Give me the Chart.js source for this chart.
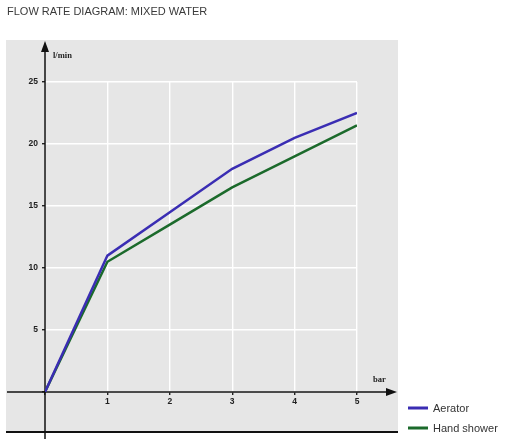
<!DOCTYPE html>
<html>
<head>
<meta charset="utf-8">
<script src="https://cdn.jsdelivr.net/npm/chart.js@4.4.1/dist/chart.umd.min.js"></script>
<style>
  html, body { margin: 0; padding: 0; background: #ffffff; }
  #wrap { width: 508px; height: 439px; position: relative; }
</style>
</head>
<body>
<div id="wrap"><canvas id="c"></canvas></div>
<script>
const chartTitle = 'FLOW RATE DIAGRAM: MIXED WATER';
const xLabel = 'bar';
const yLabel = 'l/min';
const pressureBar = [0, 1, 2, 3, 4, 5];
const aeratorFlow = [0, 11, 14.5, 18, 20.5, 22.5];
const handShowerFlow = [0, 10.5, 13.5, 16.5, 19, 21.5];
const seriesNames = ['Aerator', 'Hand shower'];
const seriesColors = ['#3a2db3', '#1b6a2b'];

const toPoints = (xs, ys) => xs.map((x, i) => ({ x: x, y: ys[i] }));

const decor = {
  id: 'decor',
  beforeDraw(chart) {
    const ctx = chart.ctx;
    const xs = chart.scales.x, ys = chart.scales.y;
    const x0 = xs.getPixelForValue(0), y0 = ys.getPixelForValue(0);
    ctx.save();
    ctx.fillStyle = '#ffffff';
    ctx.fillRect(0, 0, chart.width, chart.height);
    ctx.fillStyle = '#e6e6e6';
    ctx.fillRect(x0 - 39, ys.top - 42, (xs.right + 41) - (x0 - 39), (y0 + 40) - (ys.top - 42));
    ctx.fillStyle = '#3a3a3a';
    ctx.font = '11px "Liberation Sans", Arial, sans-serif';
    ctx.textBaseline = 'middle';
    ctx.textAlign = 'left';
    ctx.fillText(chartTitle, 7, 12);
    ctx.restore();
  },
  beforeDatasetsDraw(chart) {
    const ctx = chart.ctx;
    const xs = chart.scales.x, ys = chart.scales.y;
    const x0 = xs.getPixelForValue(0), y0 = ys.getPixelForValue(0);
    ctx.save();
    ctx.strokeStyle = '#111111';
    ctx.fillStyle = '#111111';
    ctx.lineWidth = 1.5;
    ctx.beginPath();
    ctx.moveTo(x0, chart.height);
    ctx.lineTo(x0, ys.top - 34);
    ctx.stroke();
    ctx.beginPath();
    ctx.moveTo(x0, ys.top - 41);
    ctx.lineTo(x0 - 4, ys.top - 30);
    ctx.lineTo(x0 + 4, ys.top - 30);
    ctx.closePath();
    ctx.fill();
    ctx.beginPath();
    ctx.moveTo(x0 - 38, y0);
    ctx.lineTo(xs.right + 32, y0);
    ctx.stroke();
    ctx.beginPath();
    ctx.moveTo(xs.right + 40, y0);
    ctx.lineTo(xs.right + 29, y0 - 4);
    ctx.lineTo(xs.right + 29, y0 + 4);
    ctx.closePath();
    ctx.fill();
    ctx.lineWidth = 2;
    ctx.beginPath();
    ctx.moveTo(x0 - 39, y0 + 40);
    ctx.lineTo(xs.right + 41, y0 + 40);
    ctx.stroke();
    ctx.fillStyle = '#222222';
    ctx.font = 'bold 8.5px "Liberation Serif", "Times New Roman", serif';
    ctx.textBaseline = 'middle';
    ctx.textAlign = 'left';
    ctx.fillText(yLabel, x0 + 8, ys.top - 26);
    ctx.fillText(xLabel, xs.right + 16, y0 - 12);
    ctx.restore();
  },
  afterDraw(chart) {
    const ctx = chart.ctx;
    const xs = chart.scales.x, ys = chart.scales.y;
    const y0 = ys.getPixelForValue(0);
    ctx.save();
    ctx.font = '11px "Liberation Sans", Arial, sans-serif';
    ctx.textBaseline = 'middle';
    ctx.textAlign = 'left';
    chart.data.datasets.forEach((ds, i) => {
      const ly = y0 + 16 + i * 20;
      const lx = xs.right + 51;
      ctx.fillStyle = ds.borderColor;
      ctx.fillRect(lx, ly - 1.5, 20, 3);
      ctx.fillStyle = '#333333';
      ctx.fillText(ds.label, lx + 25, ly + 1);
    });
    ctx.restore();
  }
};

new Chart(document.getElementById('c'), {
  type: 'line',
  data: {
    datasets: [
      { label: seriesNames[0], data: toPoints(pressureBar, aeratorFlow), borderColor: seriesColors[0], backgroundColor: seriesColors[0], borderWidth: 2.5, pointRadius: 0, tension: 0, fill: false },
      { label: seriesNames[1], data: toPoints(pressureBar, handShowerFlow), borderColor: seriesColors[1], backgroundColor: seriesColors[1], borderWidth: 2.5, pointRadius: 0, tension: 0, fill: false }
    ]
  },
  options: {
    responsive: true,
    maintainAspectRatio: false,
    animation: false,
    devicePixelRatio: 1,
    layout: { padding: { left: 0, right: 151, top: 82, bottom: 0 } },
    plugins: { legend: { display: false }, title: { display: false }, tooltip: { enabled: false } },
    scales: {
      x: {
        type: 'linear', min: 0, max: 5,
        afterFit: (s) => { s.height = 47; },
        border: { display: false },
        grid: { color: '#ffffff', lineWidth: 1.4, tickColor: '#222222', tickLength: 3, drawTicks: true },
        ticks: { stepSize: 1, padding: 2, color: '#222222', font: { family: '"Liberation Sans", Arial, sans-serif', size: 8.5, weight: 'bold' },
          callback: (v) => (v === 0 ? '' : String(v)) }
      },
      y: {
        type: 'linear', min: 0, max: 25,
        afterFit: (s) => { s.width = 45; },
        border: { display: false },
        grid: { color: '#ffffff', lineWidth: 1.4, tickColor: '#222222', tickLength: 3, drawTicks: true },
        ticks: { stepSize: 5, padding: 4, color: '#222222', font: { family: '"Liberation Sans", Arial, sans-serif', size: 8.5, weight: 'bold' },
          callback: (v) => (v === 0 ? '' : String(v)) }
      }
    }
  },
  plugins: [decor]
});
</script>
</body>
</html>
